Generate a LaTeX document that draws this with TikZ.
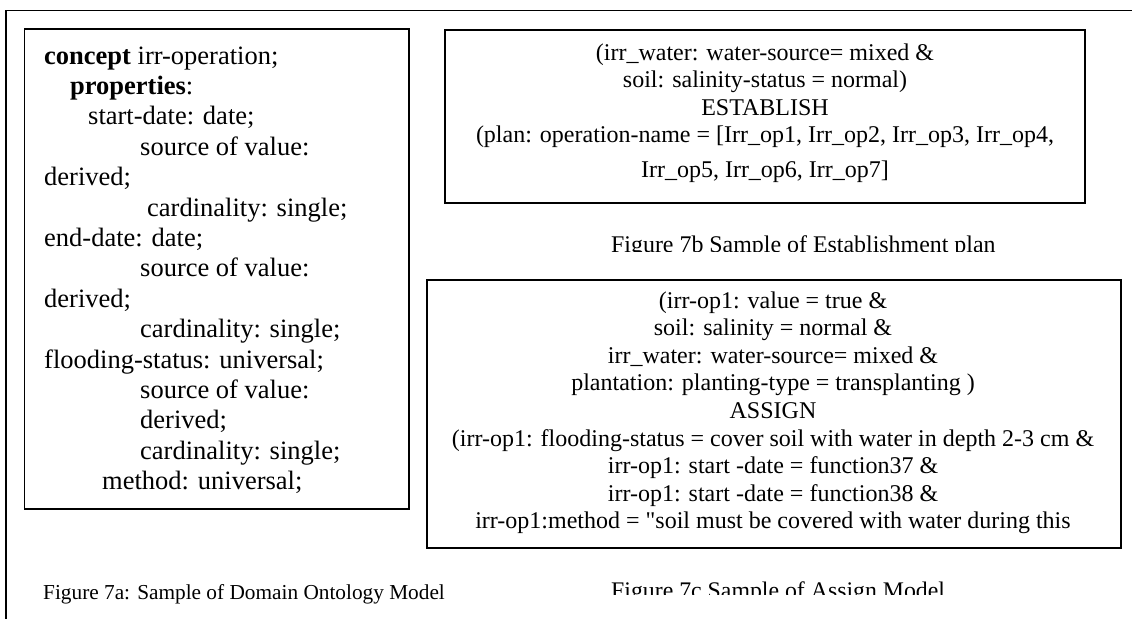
\documentclass[tikz,border=0pt]{standalone}
\usepackage{fontspec}
\setmainfont{Liberation Serif}
% same face without the TeX input mapping, for a straight double quote
\newfontfamily\rawserif{Liberation Serif}
\tikzset{
  frame/.style={line width=1.6pt},
  panel/.style={draw, line width=1.5pt, rectangle, inner sep=0pt, anchor=north west},
  listing/.style={inner sep=0pt, anchor=base west, font=\fontsize{26.5}{30.4}\selectfont},
  rule/.style={inner sep=0pt, anchor=base, font=\fontsize{24}{27.5}\selectfont},
  caption/.style={inner sep=0pt, anchor=base west},
}
\begin{document}
\begin{tikzpicture}[x=1pt,y=-1pt]
\useasboundingbox (0,0) rectangle (1132,619);

% outer frame (top and left edges)
\coordinate (frameTR) at (1132,10.5);
\coordinate (frameTL) at (6,10.5);
\coordinate (frameBL) at (6,619);
\draw[frame] (frameTR) -- (frameTL) -- (frameBL);

% the three panels
\node[panel, minimum width=384.5pt, minimum height=480pt] (onto) at (23.5,28) {};
\node[panel, minimum width=640pt, minimum height=173pt] (plan) at (444,29) {};
\node[panel, minimum width=694pt, minimum height=268pt] (assign) at (426,279) {};

% domain ontology listing
\node[listing] (ontotext) at (44,64) {\begin{tabular}[t]{@{}l@{}}
\textbf{concept} irr-operation;\\
\hspace*{26pt}\textbf{properties}:\\
\hspace*{44pt}start-date: date;\\
\hspace*{96pt}source of value:\\
derived;\\
\hspace*{103pt}cardinality: single;\\
end-date: date;\\
\hspace*{96pt}source of value:\\
derived;\\
\hspace*{96pt}cardinality: single;\\
flooding-status: universal;\\
\hspace*{96pt}source of value:\\
\hspace*{96pt}derived;\\
\hspace*{96pt}cardinality: single;\\
\hspace*{58pt}method: universal;
\end{tabular}};

% establishment rule
\node[rule] (plantext) at (765,60) {\begin{tabular}[t]{@{}c@{}}
(irr\_water: water-source= mixed \&\\
soil: salinity-status = normal)\\
ESTABLISH\\
(plan: operation-name = [Irr\_op1, Irr\_op2, Irr\_op3, Irr\_op4,\\[7.7pt]
Irr\_op5, Irr\_op6, Irr\_op7]
\end{tabular}};

% assign rule
\node[rule, font=\fontsize{24}{27.6}\selectfont] (assigntext) at (773,308) {\begin{tabular}[t]{@{}c@{}}
(irr-op1: value = true \&\\
soil: salinity = normal \&\\
irr\_water: water-source= mixed \&\\
plantation: planting-type = transplanting )\\
ASSIGN\\
(irr-op1: flooding-status = cover soil with water in depth 2-3 cm \&\\
irr-op1: start -date = function37 \&\\
irr-op1: start -date = function38 \&\\
irr-op1:method = {\rawserif"}soil must be covered with water during this
\end{tabular}};

% captions
\node[caption, font=\fontsize{21.3}{24}\selectfont] (capa) at (43,599) {Figure 7a: Sample of Domain Ontology Model};
\begin{scope}
  \clip (600,220) rectangle (1020,251.5);
  \node[caption, font=\fontsize{23.9}{27}\selectfont] (capb) at (611,252) {Figure 7b Sample of Establishment plan};
\end{scope}
\begin{scope}
  \clip (600,570) rectangle (1020,594);
  \node[caption, font=\fontsize{23.8}{27}\selectfont] (capc) at (611,598) {Figure 7c Sample of Assign Model};
\end{scope}
\end{tikzpicture}
\end{document}
